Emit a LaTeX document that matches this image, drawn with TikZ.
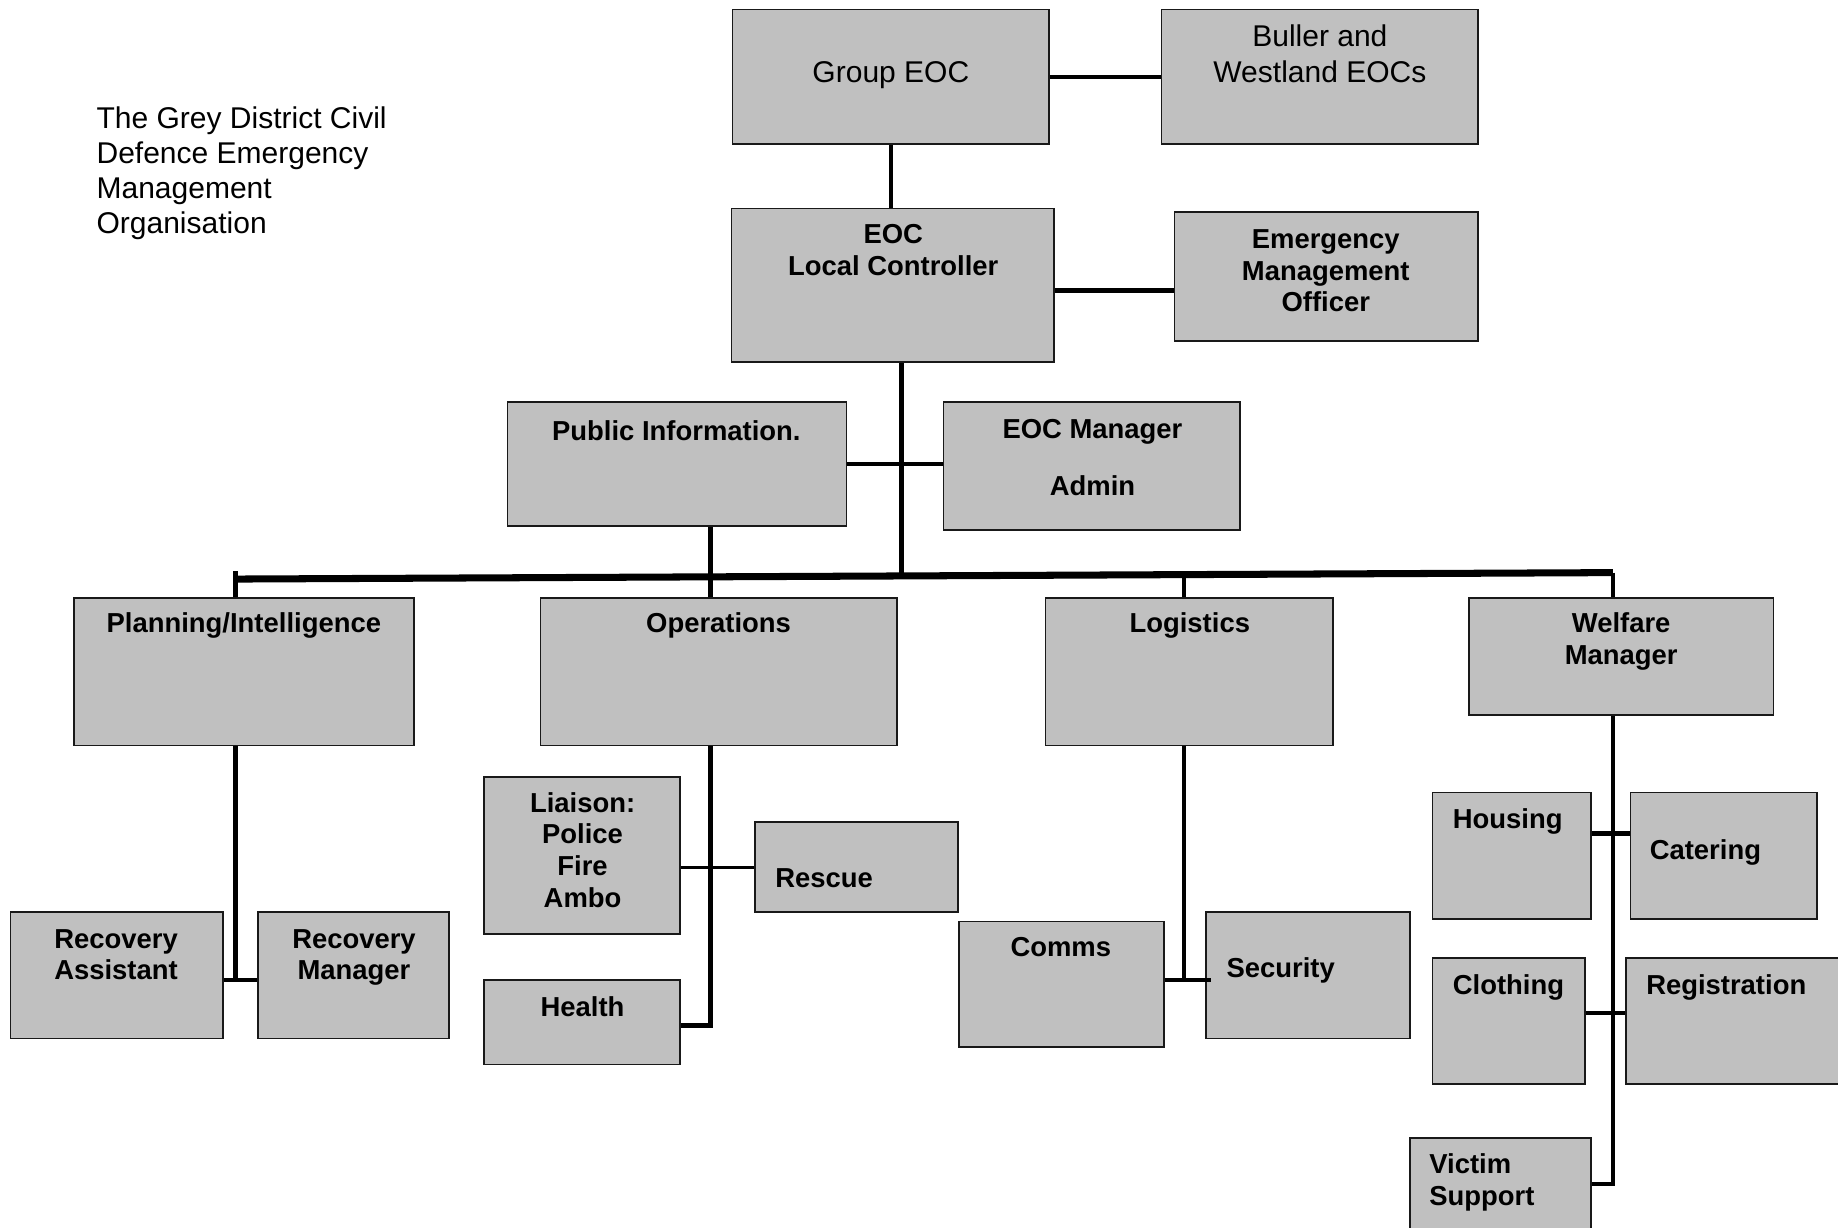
\documentclass[tikz,border=0pt]{standalone}
\usepackage{fontspec}
\setmainfont{Liberation Sans}
\usetikzlibrary{fit}
\definecolor{boxgray}{HTML}{C0C0C0}
\begin{document}
\begin{tikzpicture}[x=0.5pt,y=-0.5pt,
  orgbox/.style={draw=black!90, line width=0.7pt, fill=boxgray, inner sep=0pt},
  reg/.style={font=\fontsize{12.8}{15}\selectfont, align=center, inner sep=0pt, anchor=base},
  bld/.style={font=\fontsize{11.7}{13.5}\selectfont\bfseries, align=center, inner sep=0pt, anchor=base},
  bldl/.style={bld, align=left, anchor=base west},
  conn/.style={line width=1.9pt, line join=miter},
  thinconn/.style={line width=1.2pt},
  mainbar/.style={line width=3pt}]
\useasboundingbox (0,0) rectangle (1568,1047);

% boxes
\node[orgbox, fit={(625,8)(895,123)}] (gEOC) {};
\node[orgbox, fit={(991,8)(1261,123)}] (buller) {};
\node[orgbox, fit={(624,178)(899,309)}] (eoc) {};
\node[orgbox, fit={(1002,181)(1261,291)}] (emo) {};
\node[orgbox, fit={(433,343)(722,449)}] (pub) {};
\node[orgbox, fit={(805,343)(1058,452)}] (mgr) {};
\node[orgbox, fit={(63,510)(353,636)}] (plan) {};
\node[orgbox, fit={(461,510)(765,636)}] (ops) {};
\node[orgbox, fit={(892,510)(1137,636)}] (log) {};
\node[orgbox, fit={(1253,510)(1513,610)}] (wel) {};
\node[orgbox, fit={(9,778)(190,886)}] (recA) {};
\node[orgbox, fit={(220,778)(383,886)}] (recM) {};
\node[orgbox, fit={(413,663)(580,797)}] (liaison) {};
\node[orgbox, fit={(644,701)(817,778)}] (rescue) {};
\node[orgbox, fit={(413,836)(580,908)}] (health) {};
\node[orgbox, fit={(818,786)(993,893)}] (comms) {};
\node[orgbox, fit={(1029,778)(1203,886)}] (security) {};
\node[orgbox, fit={(1222,676)(1357,784)}] (housing) {};
\node[orgbox, fit={(1391,676)(1550,784)}] (catering) {};
\node[orgbox, fit={(1222,817)(1352,925)}] (clothing) {};
\node[orgbox, fit={(1387,817)(1572,925)}] (registration) {};
\node[orgbox, fit={(1203,971)(1357,1060)}] (victim) {};

% texts (anchor base = baseline of the last line)
\node[reg, align=left, anchor=base west, font=\fontsize{12.8}{14.85}\selectfont] (title) at (82,199)
  {The Grey District Civil\\Defence Emergency\\Management\\Organisation};
\node[reg] (gEOCt) at (760,70) {Group EOC};
\node[reg] (bullert) at (1126,70) {Buller and\\Westland EOCs};
\node[bld] (eoct) at (762,235) {EOC\\Local Controller};
\node[bld] (emot) at (1131,266) {Emergency\\Management\\Officer};
\node[bld] (pubt) at (577,376) {Public Information.};
\node[bld] (mgrt) at (932,423) {EOC Manager\\[11pt]Admin};
\node[bld] (plant) at (208,540) {Planning/Intelligence};
\node[bld] (opst) at (613,540) {Operations};
\node[bld] (logt) at (1015,540) {Logistics};
\node[bld] (welt) at (1383,567) {Welfare\\Manager};
\node[bld] (recAt) at (99,836) {Recovery\\Assistant};
\node[bld] (recMt) at (302,836) {Recovery\\Manager};
\node[bld] (liaisont) at (497,774) {Liaison:\\Police\\Fire\\Ambo};
\node[bldl] (rescuet) at (661,757) {Rescue};
\node[bld] (healtht) at (497,867) {Health};
\node[bld] (commst) at (905,816) {Comms};
\node[bldl] (securityt) at (1046,834) {Security};
\node[bldl] (housingt) at (1239,707) {Housing};
\node[bldl] (cateringt) at (1407,733) {Catering};
\node[bldl] (clothingt) at (1239,848) {Clothing};
\node[bldl] (registrationt) at (1404,848) {Registration};
\node[bldl] (victimt) at (1219,1028) {Victim\\Support};

% junction coordinates
\coordinate (ee) at (950,248);
\coordinate (pm) at (760,396);
\coordinate (barL) at (201,494);
\coordinate (barLtip) at (201,487);
\coordinate (barR) at (1376,488.5);
\coordinate (sp) at (769,491);
\coordinate (lx) at (1010,490);
\coordinate (px) at (606,449);
\coordinate (rj) at (201,836);
\coordinate (oh) at (606,875);
\coordinate (lr) at (606,740);
\coordinate (cs) at (1010,836);
\coordinate (csend) at (1033,836);
\coordinate (wv) at (1376,1010);
\coordinate (hc) at (1376,711);
\coordinate (cr) at (1376,864);

% connectors
\draw[conn] (gEOC.east) -- (buller.west);
\draw[conn] (gEOC.south) -- (gEOC.south |- eoc.north);
\draw[conn] (eoc.east |- ee) -- (emo.west |- ee);
\draw[conn] (eoc.south -| sp) -- (sp);
\draw[conn] (pub.east |- pm) -- (mgr.west |- pm);
\draw[conn] (pub.south -| px) -- (px |- ops.north);
\draw[mainbar] (barL) -- (barR);
\draw[conn] (barLtip) -- (barLtip |- plan.north);
\draw[conn] (barR) -- (barR |- wel.north);
\draw[conn] (lx) -- (lx |- log.north);

\draw[conn] (rj |- plan.south) -- (rj);
\draw[conn] (recA.east |- rj) -- (recM.west |- rj);
\draw[conn] (oh |- ops.south) -- (oh) -- (health.east |- oh);
\draw[thinconn] (liaison.east |- lr) -- (rescue.west |- lr);
\draw[conn] (cs |- log.south) -- (cs);
\draw[conn] (comms.east |- cs) -- (csend);
\draw[conn] (wv |- wel.south) -- (wv) -- (victim.east |- wv);
\draw[conn] (housing.east |- hc) -- (catering.west |- hc);
\draw[conn] (clothing.east |- cr) -- (registration.west |- cr);
\end{tikzpicture}
\end{document}
